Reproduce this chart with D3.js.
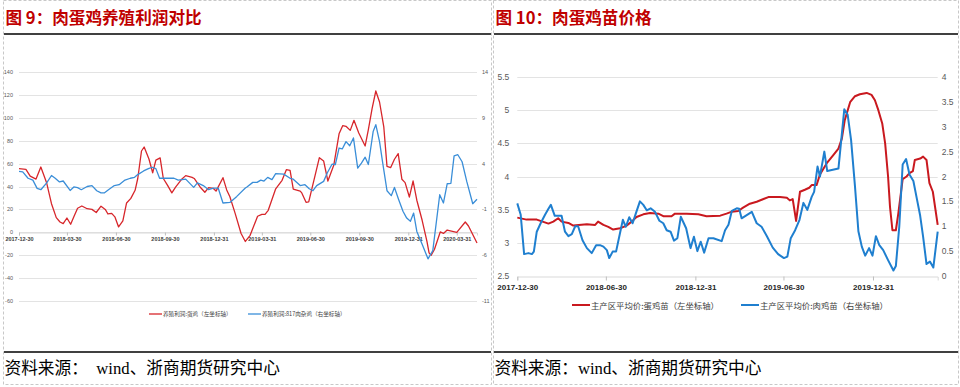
<!DOCTYPE html>
<html lang="zh">
<head>
<meta charset="utf-8">
<title>肉蛋鸡养殖利润与鸡苗价格</title>
<script type="text/javascript" src="https://cdn.jsdelivr.net/npm/d3@7/dist/d3.min.js"></script>
<style>
body { margin: 0; background: #fff; }
text { font-family: "Liberation Sans", Arial, sans-serif; }
.title { font-family: "Noto Sans CJK SC", sans-serif; font-weight: bold; font-size: 16.6px; fill: #c00000; }
.source { font-family: "Liberation Serif", "Noto Sans CJK SC", serif; font-size: 16.7px; fill: #000; }
.legend { font-family: "Noto Sans CJK SC", sans-serif; fill: #404040; }
.grid { stroke: #e3e3e3; stroke-width: 1px; }
path.series { fill: none; stroke-linejoin: round; }
</style>
</head>
<body>
<script type="text/javascript">
// ---- data ----
// figure 9: egg-layer profit (left axis) and 817 broiler profit (right axis)
var eggProfit = [
 ["2017-12-30",55.6],["2018-01-12",55],["2018-01-20",49],["2018-01-31",46.5],["2018-02-09",57],
 ["2018-02-20",43],["2018-03-01",25],["2018-03-10",12.8],["2018-03-17",9],["2018-03-23",7.6],
 ["2018-03-30",12.5],["2018-04-06",7],["2018-04-12",13.5],["2018-04-19",21],["2018-04-27",23],
 ["2018-05-07",20.6],["2018-05-16",20],["2018-05-24",17.3],["2018-06-02",22.8],["2018-06-10",20],
 ["2018-06-15",16],["2018-06-22",16.5],["2018-06-28",13.5],["2018-07-05",4.7],["2018-07-13",9.9],
 ["2018-07-20",25.6],["2018-07-28",29.6],["2018-08-05",36.7],["2018-08-10",47],["2018-08-17",71],
 ["2018-08-22",74.5],["2018-08-31",64],["2018-09-07",52],["2018-09-13",63],["2018-09-21",65],
 ["2018-09-27",47],["2018-10-05",41],["2018-10-13",34.4],["2018-10-20",39.5],["2018-11-01",46.6],
 ["2018-11-08",49.5],["2018-11-20",48],["2018-11-24",47],["2018-12-05",39.6],["2018-12-14",35],
 ["2018-12-21",39],["2018-12-30",38.3],["2019-01-04",36],["2019-01-17",47.7],["2019-01-24",37],
 ["2019-01-30",31],["2019-02-09",16.3],["2019-02-20",-1],["2019-02-28",-8],["2019-03-09",-2.6],
 ["2019-03-23",14],["2019-03-31",15.7],["2019-04-06",15.7],["2019-04-12",19.2],["2019-04-26",38],
 ["2019-05-08",45.4],["2019-05-16",54.7],["2019-05-23",54],["2019-05-29",37.8],["2019-06-11",36],
 ["2019-06-14",34.4],["2019-06-22",26.2],["2019-06-27",26.5],["2019-07-09",49.8],["2019-07-17",65.2],
 ["2019-07-25",62.3],["2019-08-02",44.8],["2019-08-13",58.5],["2019-08-23",86],["2019-08-30",93.2],
 ["2019-09-05",92.6],["2019-09-13",89],["2019-09-20",97.8],["2019-09-29",86.7],["2019-10-11",75.4],
 ["2019-10-17",89.7],["2019-10-24",108],["2019-10-31",123.4],["2019-11-07",113.8],["2019-11-15",92],
 ["2019-11-21",57.6],["2019-11-28",56.5],["2019-12-05",63.8],["2019-12-12",68.7],["2019-12-19",46.3],
 ["2019-12-25",43.4],["2020-01-02",30.8],["2020-01-09",44.8],["2020-01-16",28],["2020-01-26",10.5],
 ["2020-02-04",-8],["2020-02-08",-18],["2020-02-12",-20],["2020-02-18",-15],["2020-02-29",0.3],
 ["2020-03-06",-1],["2020-03-13",2],["2020-03-31",0],["2020-04-16",9],["2020-04-22",5.5],
 ["2020-05-08",-9.3]
];
var broilerProfit = [
 ["2017-12-30",3.15],["2018-01-06",3.1],["2018-01-16",2.4],["2018-01-25",2.2],["2018-02-02",1.3],
 ["2018-02-09",1.15],["2018-02-20",1.9],["2018-03-01",2.7],["2018-03-08",2.4],["2018-03-16",2.0],
 ["2018-03-23",2.1],["2018-04-05",1.07],["2018-04-12",1.45],["2018-04-19",1.37],["2018-04-26",1.15],
 ["2018-05-07",1.5],["2018-05-16",1.6],["2018-05-25",1.04],["2018-06-02",0.8],["2018-06-08",0.8],
 ["2018-06-16",1.15],["2018-06-27",1.6],["2018-07-06",1.7],["2018-07-17",2.2],["2018-07-27",2.4],
 ["2018-08-04",2.5],["2018-08-10",2.8],["2018-08-21",3.2],["2018-08-30",3.45],["2018-09-06",3.6],
 ["2018-09-13",3.45],["2018-09-20",2.4],["2018-09-30",2.4],["2018-10-17",2.4],["2018-10-25",2.2],
 ["2018-11-08",2.3],["2018-11-23",1.4],["2018-11-30",1.9],["2018-12-11",1.6],["2018-12-21",1.15],
 ["2018-12-30",1.33],["2019-01-08",1.33],["2019-01-17",-0.3],["2019-01-30",-0.24],["2019-02-12",0.42],
 ["2019-02-28",1.33],["2019-03-03",1.45],["2019-03-14",1.95],["2019-03-22",1.95],["2019-03-29",2.2],
 ["2019-04-04",2.1],["2019-04-11",2.5],["2019-04-19",2.25],["2019-04-26",2.9],["2019-05-11",2.85],
 ["2019-05-23",2.4],["2019-05-29",2.3],["2019-06-11",1.6],["2019-06-20",1.7],["2019-06-28",1.26],
 ["2019-07-05",1.04],["2019-07-12",1.6],["2019-07-25",2.06],["2019-08-01",3.0],["2019-08-10",3.95],
 ["2019-08-16",3.9],["2019-08-23",5.7],["2019-08-29",5.6],["2019-09-05",6.4],["2019-09-12",5.95],
 ["2019-09-19",6.8],["2019-09-27",3.5],["2019-10-04",4.05],["2019-10-11",4.7],["2019-10-17",3.9],
 ["2019-10-26",7.5],["2019-10-31",8.25],["2019-11-07",6.4],["2019-11-13",4.05],["2019-11-21",1.04],
 ["2019-11-29",0.5],["2019-12-05",1.4],["2019-12-13",0.06],["2019-12-21",-1.2],["2019-12-28",-1.95],
 ["2020-01-04",-2.3],["2020-01-10",-1.4],["2020-01-16",-3.4],["2020-01-26",-4.8],["2020-02-06",-6.4],
 ["2020-02-15",-5.5],["2020-02-28",0.6],["2020-03-06",-0.3],["2020-03-13",1.8],["2020-03-20",1.85],
 ["2020-03-26",4.85],["2020-04-02",4.97],["2020-04-10",4.2],["2020-04-19",2.0],["2020-04-30",-0.38],
 ["2020-05-08",0.1]
];
// figure 10: egg-layer chick price (left axis), broiler chick price (right axis)
var eggChick = [
 ["2017-12-30",3.38],["2018-01-18",3.35],["2018-02-08",3.35],["2018-03-04",3.29],["2018-03-14",3.32],
 ["2018-03-24",3.37],["2018-03-31",3.32],["2018-04-14",3.30],["2018-04-24",3.26],["2018-05-22",3.28],
 ["2018-06-08",3.27],["2018-06-14",3.32],["2018-06-25",3.27],["2018-07-05",3.24],["2018-07-15",3.20],
 ["2018-07-29",3.22],["2018-08-12",3.26],["2018-08-22",3.32],["2018-09-01",3.39],["2018-09-15",3.43],
 ["2018-09-29",3.45],["2018-10-16",3.44],["2018-10-27",3.40],["2018-11-12",3.40],["2018-11-19",3.44],
 ["2018-12-13",3.44],["2019-01-06",3.43],["2019-01-23",3.40],["2019-02-20",3.41],["2019-03-05",3.44],
 ["2019-03-16",3.47],["2019-03-29",3.48],["2019-04-08",3.53],["2019-04-22",3.59],["2019-05-06",3.62],
 ["2019-05-20",3.66],["2019-05-30",3.69],["2019-06-23",3.69],["2019-07-07",3.68],["2019-07-13",3.64],
 ["2019-07-19",3.66],["2019-07-26",3.33],["2019-08-03",3.77],["2019-08-13",3.80],["2019-08-22",3.83],
 ["2019-08-27",3.87],["2019-09-06",3.87],["2019-09-13",4.03],["2019-09-27",4.20],["2019-10-10",4.32],
 ["2019-10-21",4.42],["2019-10-28",4.57],["2019-11-03",4.85],["2019-11-14",5.12],["2019-11-24",5.21],
 ["2019-12-04",5.24],["2019-12-18",5.26],["2019-12-28",5.23],["2020-01-04",5.15],["2020-01-11",5.0],
 ["2020-01-19",4.80],["2020-01-25",4.50],["2020-01-31",4.0],["2020-02-04",3.54],["2020-02-09",3.19],
 ["2020-02-16",3.19],["2020-02-21",3.44],["2020-03-01",3.96],["2020-03-09",4.0],["2020-03-15",4.05],
 ["2020-03-22",4.08],["2020-03-26",4.25],["2020-04-06",4.27],["2020-04-12",4.30],["2020-04-19",4.25],
 ["2020-04-25",3.90],["2020-05-02",3.77],["2020-05-12",3.27]
];
var broilerChick = [
 ["2017-12-30",1.46],["2018-01-06",1.23],["2018-01-13",0.44],["2018-01-22",0.46],["2018-01-29",0.44],
 ["2018-02-02",0.49],["2018-02-08",0.89],["2018-02-16",1.06],["2018-02-25",1.23],["2018-03-04",1.35],
 ["2018-03-09",1.43],["2018-03-17",1.21],["2018-03-31",1.21],["2018-04-07",0.89],["2018-04-14",0.80],
 ["2018-04-21",0.84],["2018-04-28",1.0],["2018-05-04",1.0],["2018-05-13",0.72],["2018-05-22",0.56],
 ["2018-06-01",0.46],["2018-06-10",0.62],["2018-06-18",0.62],["2018-06-25",0.59],["2018-07-02",0.52],
 ["2018-07-07",0.36],["2018-07-14",0.49],["2018-07-21",0.49],["2018-07-29",0.86],["2018-08-04",1.13],
 ["2018-08-10",0.99],["2018-08-17",1.18],["2018-08-24",1.06],["2018-08-31",1.27],["2018-09-08",1.50],
 ["2018-09-15",1.43],["2018-09-22",1.32],["2018-09-30",1.36],["2018-10-09",1.29],["2018-10-18",1.11],
 ["2018-10-26",1.06],["2018-11-02",0.92],["2018-11-10",0.89],["2018-11-17",0.71],["2018-11-24",0.76],
 ["2018-12-01",1.19],["2018-12-12",0.96],["2018-12-21",0.56],["2018-12-28",0.79],["2019-01-04",0.50],
 ["2019-01-11",0.69],["2019-01-18",0.47],["2019-01-27",0.76],["2019-02-06",0.76],["2019-02-23",0.70],
 ["2019-03-02",0.92],["2019-03-09",1.03],["2019-03-16",1.31],["2019-03-26",1.36],["2019-03-31",1.35],
 ["2019-04-05",1.16],["2019-04-26",1.29],["2019-05-06",1.06],["2019-05-16",0.99],["2019-05-27",0.80],
 ["2019-06-08",0.57],["2019-06-19",0.44],["2019-07-01",0.36],["2019-07-08",0.39],["2019-07-15",0.76],
 ["2019-07-24",0.92],["2019-08-02",1.13],["2019-08-10",1.47],["2019-08-18",1.33],["2019-08-27",1.59],
 ["2019-09-01",1.69],["2019-09-08",2.20],["2019-09-13",2.0],["2019-09-22",2.50],["2019-09-28",2.11],
 ["2019-10-21",2.16],["2019-11-02",3.35],["2019-11-09",3.24],["2019-11-16",2.73],["2019-11-24",1.80],
 ["2019-12-01",0.90],["2019-12-08",0.59],["2019-12-15",0.41],["2019-12-23",0.56],["2019-12-30",0.41],
 ["2020-01-06",0.80],["2020-01-13",0.62],["2020-01-21",0.52],["2020-01-31",0.32],["2020-02-11",0.11],
 ["2020-02-16",0.20],["2020-02-23",0.99],["2020-03-01",2.24],["2020-03-08",2.35],["2020-03-15",2.04],
 ["2020-03-23",1.91],["2020-03-30",1.56],["2020-04-06",1.21],["2020-04-12",0.79],["2020-04-19",0.24],
 ["2020-04-26",0.29],["2020-05-03",0.17],["2020-05-12",0.89]
];

var xTicks1 = ["2017-12-30","2018-03-30","2018-06-30","2018-09-30","2018-12-31",
               "2019-03-31","2019-06-30","2019-09-30","2019-12-31","2020-03-31"];
var yLeftTicks1 = [-60,-40,-20,0,20,40,60,80,100,120,140];
var yRightTicks1 = [-11,-6,-1,4,9,14];
var xTicks2 = ["2017-12-30","2018-06-30","2018-12-31","2019-06-30","2019-12-31"];
var yLeftTicks2 = [2.5,3,3.5,4,4.5,5,5.5];
var yRightTicks2 = [0,0.5,1,1.5,2,2.5,3,3.5,4];

var titles = ["图 9：肉蛋鸡养殖利润对比", "图 10：肉蛋鸡苗价格"];
var legend1 = ["养殖利润:蛋鸡（左坐标轴）", "养殖利润:817肉杂鸡（右坐标轴）"];
var legend2 = ["主产区平均价:蛋鸡苗（左坐标轴）", "主产区平均价:肉鸡苗（右坐标轴）"];
var sources = ["资料来源：\u00a0 wind、浙商期货研究中心", "资料来源：wind、浙商期货研究中心"];

// ---- drawing ----
var W = 960, H = 387;
var parse = d3.timeParse("%Y-%m-%d");
var fmt = d3.timeFormat("%Y-%m-%d");
var svg = d3.select("body").append("svg").attr("width", W).attr("height", H);

// panel frames, titles and source lines
var panels = [{x0: 3.5, x1: 491.5}, {x0: 493.5, x1: 958.5}];
panels.forEach(function(p, i){
  svg.append("rect").attr("x", p.x0).attr("y", 0.5).attr("width", p.x1 - p.x0).attr("height", 384)
     .attr("fill", "none").attr("stroke", "#c8c8c8").attr("stroke-dasharray", "3,2");
  svg.append("text").attr("class", "title").attr("x", p.x0 + 2).attr("y", 24).text(titles[i]);
  svg.append("line").attr("x1", p.x0 + 0.5).attr("x2", p.x1 - 0.5).attr("y1", 34).attr("y2", 34)
     .attr("stroke", "#000").attr("stroke-width", 1.5);
  svg.append("line").attr("x1", p.x0 + 0.5).attr("x2", p.x1 - 0.5).attr("y1", 352).attr("y2", 352)
     .attr("stroke", "#000").attr("stroke-width", 1.5);
  svg.append("text").attr("class", "source").attr("x", p.x0 + 1).attr("y", 374)
     .attr("xml:space", "preserve").text(sources[i]);
});

function toPts(arr){ return arr.map(function(d){ return {date: parse(d[0]), v: d[1]}; }); }

function drawLine(g, data, x, y, color, width){
  var line = d3.line().x(function(d){ return x(d.date); }).y(function(d){ return y(d.v); });
  g.append("path").attr("class", "series").datum(toPts(data))
   .attr("d", line).attr("stroke", color).attr("stroke-width", width);
}

// ---------- figure 9 ----------
{
  var g = svg.append("g");
  var L = 19, R = 477;
  var x = d3.scaleTime().domain([parse("2017-12-30"), parse("2020-05-08")]).range([L, R]);
  var yL = d3.scaleLinear().domain([-60, 140]).range([301, 72]);
  var yR = d3.scaleLinear().domain([-11, 14]).range([301, 72]);

  g.selectAll(".g1").data(yLeftTicks1).enter().append("line").attr("class", "grid")
   .attr("x1", L).attr("x2", R)
   .attr("y1", function(d){ return Math.round(yL(d)) + 0.5; })
   .attr("y2", function(d){ return Math.round(yL(d)) + 0.5; });

  g.selectAll(".yl1").data(yLeftTicks1).enter().append("text")
   .attr("x", L - 6).attr("y", function(d){ return yL(d) + 2; })
   .attr("text-anchor", "end").attr("font-size", "5.5px").attr("fill", "#595959")
   .text(function(d){ return d; });
  g.selectAll(".yr1").data(yRightTicks1).enter().append("text")
   .attr("x", R + 5).attr("y", function(d){ return yR(d) + 2; })
   .attr("font-size", "5.5px").attr("fill", "#595959")
   .text(function(d){ return d; });

  var xa = g.append("g").attr("transform", "translate(0," + (Math.round(yL(0)) + 0.5) + ")")
    .call(d3.axisBottom(x).tickValues(xTicks1.map(parse)).tickFormat(fmt).tickSize(3).tickPadding(2));
  xa.select(".domain").attr("stroke", "#d9d9d9");
  xa.selectAll(".tick line").attr("stroke", "#bfbfbf");
  xa.selectAll(".tick text").attr("font-size", "5.5px").attr("font-weight", "bold")
    .attr("fill", "#404040").attr("font-family", "Liberation Sans, Arial, sans-serif");

  drawLine(g, eggProfit, x, yL, "#d7262b", 1.3);
  drawLine(g, broilerProfit, x, yR, "#3a8ed8", 1.3);

  var lg = [{x: 149, c: "#d7262b", t: legend1[0]}, {x: 248, c: "#3a8ed8", t: legend1[1]}];
  lg.forEach(function(d){
    g.append("line").attr("x1", d.x).attr("x2", d.x + 13).attr("y1", 314).attr("y2", 314)
     .attr("stroke", d.c).attr("stroke-width", 1.3);
    g.append("text").attr("class", "legend").attr("x", d.x + 14).attr("y", 316)
     .attr("font-size", "5.6px").text(d.t);
  });
}

// ---------- figure 10 ----------
{
  var g2 = svg.append("g");
  var L2 = 517.3, R2 = 937.7;
  var x2 = d3.scaleTime().domain([parse("2017-12-30"), parse("2020-05-12")]).range([L2, R2]);
  var yL2 = d3.scaleLinear().domain([2.5, 5.5]).range([276, 77]);
  var yR2 = d3.scaleLinear().domain([0, 4]).range([276, 77]);

  g2.selectAll(".g2").data(yLeftTicks2.slice(1)).enter().append("line").attr("class", "grid")
   .attr("x1", L2).attr("x2", R2)
   .attr("y1", function(d){ return Math.round(yL2(d)) + 0.5; })
   .attr("y2", function(d){ return Math.round(yL2(d)) + 0.5; });

  g2.selectAll(".yl2").data(yLeftTicks2).enter().append("text")
   .attr("x", L2 - 8).attr("y", function(d){ return yL2(d) + 3; })
   .attr("text-anchor", "end").attr("font-size", "8.5px").attr("fill", "#595959")
   .text(function(d){ return d; });
  g2.selectAll(".yr2").data(yRightTicks2).enter().append("text")
   .attr("x", R2 + 4).attr("y", function(d){ return yR2(d) + 3; })
   .attr("font-size", "8.5px").attr("fill", "#595959")
   .text(function(d){ return d; });

  var xa2 = g2.append("g").attr("transform", "translate(0," + (Math.round(yL2(2.5)) + 0.5) + ")")
    .call(d3.axisBottom(x2).tickValues(xTicks2.map(parse)).tickFormat(fmt).tickSize(4).tickPadding(4));
  xa2.select(".domain").attr("stroke", "#d9d9d9");
  xa2.selectAll(".tick line").attr("stroke", "#bfbfbf");
  xa2.selectAll(".tick text").attr("font-size", "8px").attr("font-weight", "bold")
    .attr("fill", "#262626").attr("font-family", "Liberation Sans, Arial, sans-serif");

  drawLine(g2, eggChick, x2, yL2, "#c9191f", 2);
  drawLine(g2, broilerChick, x2, yR2, "#1f7fcf", 2);

  var lg2 = [{x: 572, c: "#c9191f", t: legend2[0]}, {x: 741, c: "#1f7fcf", t: legend2[1]}];
  lg2.forEach(function(d){
    g2.append("line").attr("x1", d.x).attr("x2", d.x + 18).attr("y1", 305).attr("y2", 305)
      .attr("stroke", d.c).attr("stroke-width", 2);
    g2.append("text").attr("class", "legend").attr("x", d.x + 19).attr("y", 308.5)
      .attr("font-size", "8.4px").text(d.t);
  });
}
</script>
</body>
</html>
